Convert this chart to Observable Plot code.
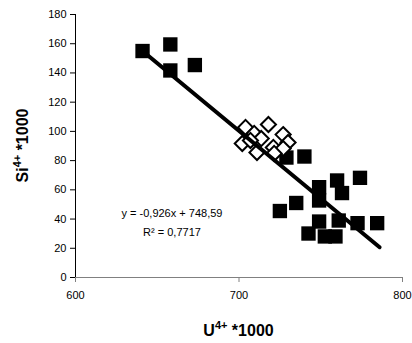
<!DOCTYPE html>
<html>
<head>
<meta charset="utf-8">
<script src="https://cdn.jsdelivr.net/npm/d3@7"></script>
<script src="https://cdn.jsdelivr.net/npm/@observablehq/plot@0.6"></script>
<style>
  html, body { margin: 0; padding: 0; background: #fff; }
  #chart { width: 412px; height: 343px; }
</style>
</head>
<body>
<div id="chart"></div>
<script>
// Filled squares series (U4+ *1000, Si4+ *1000)
const squareU  = [641, 658, 658, 673, 729, 740, 749, 760, 774, 763, 749, 735, 725, 749, 761, 772.5, 784.5, 742.5, 752.5, 759];
const squareSi = [155, 159.5, 141.7, 145.4, 82.1, 82.8, 61.8, 66.4, 68.2, 57.8, 52.7, 51, 45.5, 38.3, 39, 37.2, 37.2, 30.1, 28.1, 28.1];
// Open diamonds series
const diamondU  = [704, 718, 709.3, 702, 713.6, 727, 730, 721, 711, 727, 721.5, 707];
const diamondSi = [102.7, 104.7, 98.6, 91.7, 95.1, 97.8, 92.4, 89, 85.6, 88.3, 84.9, 93.8];
// Trend line: y = -0,926x + 748,59
const trendSlope = -0.926;
const trendIntercept = 748.59;
const trendU = [641, 786];
const equationText = ["y = -0,926x + 748,59", "R\u00B2 = 0,7717"];
const equationU = [659, 659];
const equationSi = [43.8, 30.8];
// Axes ticks
const xTicks = [600, 700, 800];
const yTicks = [0, 20, 40, 60, 80, 100, 120, 140, 160, 180];

const squares = squareU.map((u, i) => ({u, si: squareSi[i]}));
const diamonds = diamondU.map((u, i) => ({u, si: diamondSi[i]}));
const trend = trendU.map(u => ({u, si: trendSlope * u + trendIntercept}));
const eq = equationText.map((t, i) => ({t, u: equationU[i], si: equationSi[i]}));

const fig = Plot.plot({
  width: 412,
  height: 343,
  marginLeft: 75,
  marginRight: 10,
  marginTop: 14,
  marginBottom: 66,
  style: {fontFamily: "'Liberation Sans', Arial, sans-serif", fontSize: "11px", color: "#000", background: "#fff", overflow: "visible"},
  x: {domain: [600, 800]},
  y: {domain: [0, 180]},
  marks: [
    Plot.axisY({ticks: yTicks, tickSize: 5, tickPadding: 4, label: null, fontSize: 11, stroke: "#000", color: "#000"}),
    Plot.axisX({ticks: xTicks, tickSize: 5, tickPadding: 9, label: null, fontSize: 11, stroke: "#808080"}),
    Plot.ruleY([0], {stroke: "#808080", strokeWidth: 1}),
    Plot.ruleX([600], {stroke: "#000", strokeWidth: 1}),
    Plot.dot(squares, {x: "u", y: "si", symbol: "square", r: 8.1, fill: "#000", stroke: "none"}),
    Plot.dot(diamonds, {x: "u", y: "si", symbol: "diamond2", r: 6.8, fill: "#fff", stroke: "#000", strokeWidth: 2}),
    Plot.line(trend, {x: "u", y: "si", stroke: "#000", strokeWidth: 4}),
    Plot.text(eq, {x: "u", y: "si", text: "t", fontSize: 11, fill: "#000", textAnchor: "middle"})
  ]
});
document.getElementById("chart").appendChild(fig);

// Axis titles with superscripts
const svg = d3.select(fig);
const xs = fig.scale("x"), ys = fig.scale("y");
const xt = svg.append("text")
  .attr("x", (xs.range[0] + xs.range[1]) / 2)
  .attr("y", 336)
  .attr("text-anchor", "middle")
  .attr("font-family", "'Liberation Sans', Arial, sans-serif")
  .attr("font-weight", "bold").attr("font-size", 16).attr("fill", "#000");
xt.append("tspan").text("U");
xt.append("tspan").attr("font-size", 11).attr("dy", -7).text("4+");
xt.append("tspan").attr("dy", 7).text(" *1000");

const yt = svg.append("text")
  .attr("transform", `translate(28,${(ys.range[0] + ys.range[1]) / 2}) rotate(-90)`)
  .attr("text-anchor", "middle")
  .attr("font-family", "'Liberation Sans', Arial, sans-serif")
  .attr("font-weight", "bold").attr("font-size", 16).attr("fill", "#000");
yt.append("tspan").text("Si");
yt.append("tspan").attr("font-size", 11).attr("dy", -7).text("4+");
yt.append("tspan").attr("dy", 7).text(" *1000");
</script>
</body>
</html>
